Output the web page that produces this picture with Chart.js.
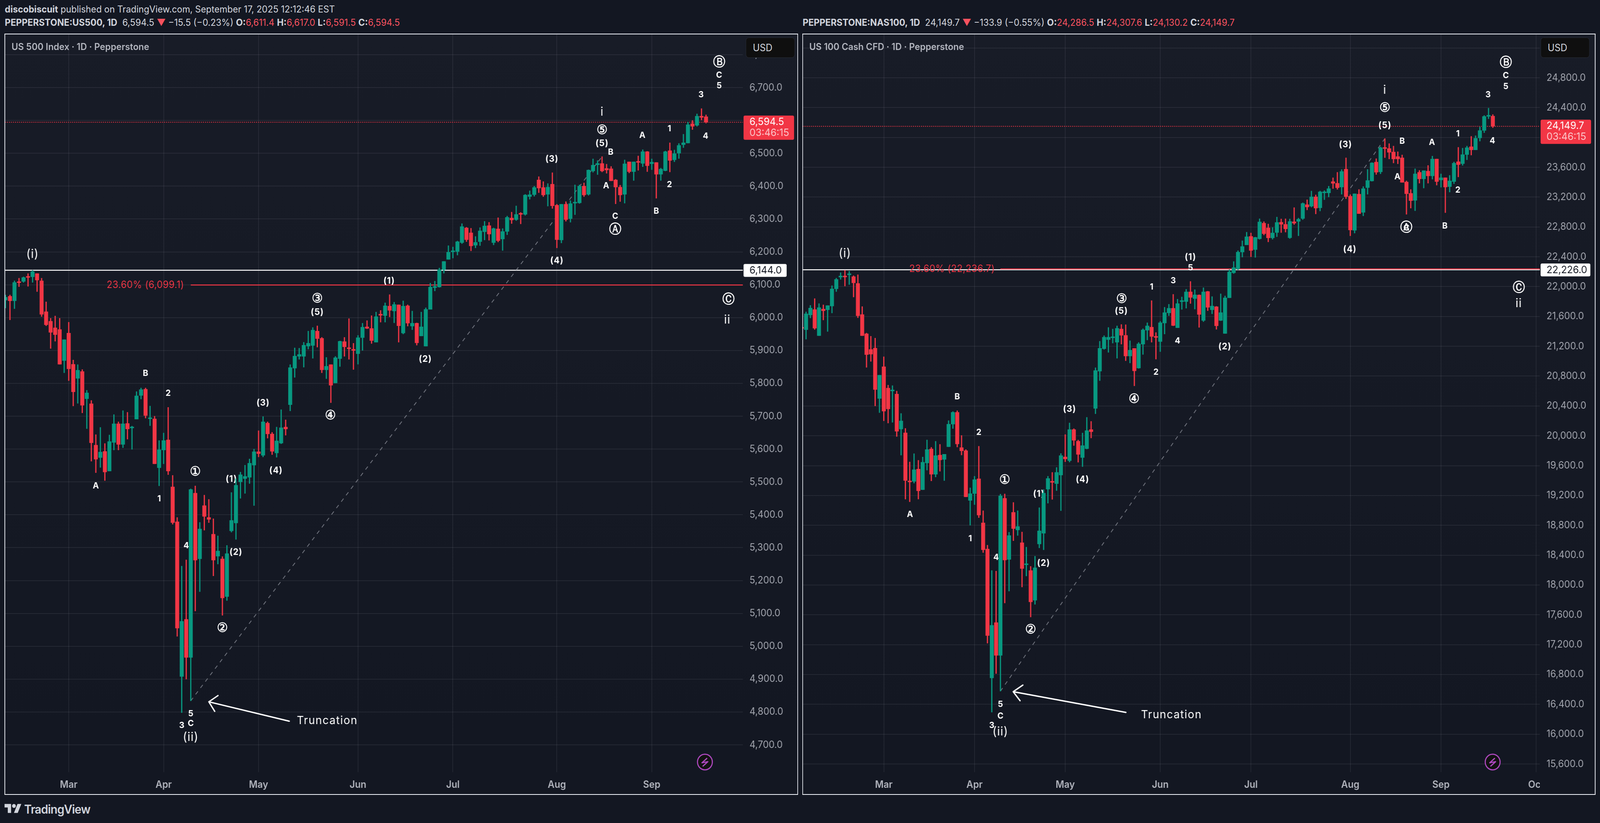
<!DOCTYPE html>
<html><head><meta charset="utf-8">
<script src="https://cdn.jsdelivr.net/npm/chart.js@4/dist/chart.umd.min.js"></script>
<style>
html,body{margin:0;padding:0;background:#131722;overflow:hidden;font-family:Inter,sans-serif}
#page{position:absolute;left:0;top:0;width:4308px;height:2106px;transform-origin:0 0;background:#131722}
canvas{position:absolute;display:block}
.t{position:absolute;white-space:pre;color:#d1d4dc;font-size:24px;line-height:28px}
.b{font-weight:700}.r{color:#f7525f}
.frame{position:absolute;border:2px solid #f0f3fa;box-sizing:border-box;pointer-events:none}
.title{position:absolute;white-space:pre;color:#b2b5be;font-size:24px;font-weight:600;line-height:28px}
.usd{position:absolute;box-sizing:border-box;background:#0f0f0f;border:1.5px solid #2a2e39;border-radius:8px;color:#d1d4dc;font-size:25px;line-height:50px;padding-left:18px}
svg{position:absolute}
</style></head><body>
<div id="page">
<canvas id="left" width="2135" height="1946" style="left:13px;top:87px;width:2135px;height:1946px"></canvas>
<canvas id="right" width="2134" height="1946" style="left:2161px;top:87px;width:2134px;height:1946px"></canvas>
<div class="frame" style="left:12px;top:86px;width:2137px;height:1948px"></div>
<div class="frame" style="left:2160px;top:86px;width:2136px;height:1948px"></div>
<div class="t" style="left:13px;top:10px"><span class="b">discobiscuit</span> published on TradingView.com, September 17, 2025 12:12:46 EST</div>
<div class="t" style="left:13px;top:44px"><span class="b">PEPPERSTONE:US500, 1D</span>  6,594.5 <span class="r">▼</span> −15.5 (−0.23%) <span class="b">O:</span><span class="r">6,611.4</span> <span class="b">H:</span><span class="r">6,617.0</span> <span class="b">L:</span><span class="r">6,591.5</span> <span class="b">C:</span><span class="r">6,594.5</span></div>
<div class="t" style="left:2161px;top:44px"><span class="b">PEPPERSTONE:NAS100, 1D</span>  24,149.7 <span class="r">▼</span> −133.9 (−0.55%) <span class="b">O:</span><span class="r">24,286.5</span> <span class="b">H:</span><span class="r">24,307.6</span> <span class="b">L:</span><span class="r">24,130.2</span> <span class="b">C:</span><span class="r">24,149.7</span></div>
<div class="title" style="left:31px;top:106px">US 500 Index · 1D · Pepperstone</div>
<div class="title" style="left:2179px;top:106px">US 100 Cash CFD · 1D · Pepperstone</div>
<div class="usd" style="left:2008px;top:96px;width:132px;height:52px">USD</div>
<div class="usd" style="left:4148px;top:96px;width:132px;height:52px">USD</div>
<svg style="left:1875px;top:1927px" width="46" height="46" viewBox="-23 -23 46 46"><circle r="20" fill="#121212" stroke="#ab47bc" stroke-width="3"/><path d="M6 -10L-8 2L8 -1L-6 11" fill="none" stroke="#ab47bc" stroke-width="3" stroke-linejoin="round"/></svg>
<svg style="left:3996px;top:1927px" width="46" height="46" viewBox="-23 -23 46 46"><circle r="20" fill="#121212" stroke="#ab47bc" stroke-width="3"/><path d="M6 -10L-8 2L8 -1L-6 11" fill="none" stroke="#ab47bc" stroke-width="3" stroke-linejoin="round"/></svg>
<svg style="left:12px;top:2052px" width="46" height="36" viewBox="0 0 36 28"><path d="M14 22H7V11H0V4h14v18zM28 22h-8l7.5-18h8L28 22z" fill="#d1d4dc"/><circle cx="20" cy="8" r="4" fill="#d1d4dc"/></svg>
<div class="t" style="left:65px;top:2054px;font-size:31px;line-height:34px;font-weight:600;letter-spacing:-1px">TradingView</div>
</div>
<script>
// The window may be narrower than the 4308 px layout: fit the whole page across it.
const fit=Math.min(1,window.innerWidth/4308);
document.getElementById("page").style.transform="scale("+fit+",1)";

// ---------- time axis ----------
const monthNames=["Mar","Apr","May","Jun","Jul","Aug","Sep","Oct"];
const monthBars=[0,21,42,64,85,108,129,151];

// ---------- US500 daily candles (first bar = 14 sessions before 3 Mar) ----------
const spxFirstBar=-14;
const spxOpen=[6053,6065,6051,6107,6110,6123,6124,6134,6112,6018,
5989,5969,5964,5869,5953,5858,5815,5836,5753,5738,
5612,5574,5593,5533,5620,5677,5614,5678,5664,5691,
5763,5782,5692,5692,5543,5597,5628,5485,5379,4908,
5082,4966,5466,5266,5428,5392,5341,5274,5266,5151,
5351,5375,5500,5510,5514,5551,5592,5581,5679,5646,
5588,5618,5667,5735,5846,5882,5882,5913,5915,5959,
5937,5841,5857,5801,5875,5927,5908,5902,5890,5939,
5972,5967,5925,6008,6006,6035,6020,6039,5953,6036,
5974,5983,5944,5913,6025,6091,6093,6146,6177,6200,
6201,6228,6273,6258,6220,6231,6261,6280,6228,6270,
6239,6262,6303,6298,6316,6314,6368,6374,6419,6396,
6375,6406,6342,6236,6345,6301,6348,6349,6400,6375,
6446,6465,6469,6454,6453,6419,6397,6375,6474,6444,
6473,6469,6505,6468,6472,6436,6447,6508,6480,6500,
6526,6531,6590,6585,6613,6611.4];
const spxHigh=[6069,6069,6112,6120,6124,6134,6144,6134,6120,6048,
5998,6005,5998,5933,5986,5871,5857,5842,5779,5748,
5644,5666,5617,5643,5705,5683,5717,5712,5670,5775,
5786,5786,5731,5700,5626,5649,5727,5520,5392,5244,
5263,5479,5488,5377,5460,5447,5388,5336,5273,5307,
5468,5510,5530,5551,5570,5600,5656,5699,5683,5651,
5667,5720,5689,5857,5908,5907,5925,5959,5970,5975,
5940,5879,5857,5882,5929,5940,5997,5922,5946,5983,
5991,6006,6017,6022,6045,6070,6047,6039,6051,6039,
6020,5984,6017,6030,6105,6111,6151,6171,6219,6215,
6233,6286,6275,6272,6247,6274,6293,6290,6273,6304,
6271,6309,6321,6340,6320,6375,6386,6400,6429,6414,
6408,6441,6345,6345,6353,6356,6404,6404,6410,6450,
6483,6478,6490,6467,6460,6421,6403,6480,6474,6474,
6492,6511,6506,6483,6472,6455,6507,6532,6510,6530,
6558,6595,6600,6620,6636,6617];
const spxLow=[6029,5993,6027,6094,6107,6095,6107,6079,6003,5975,
5906,5928,5858,5832,5808,5731,5739,5710,5662,5563,
5528,5544,5504,5533,5597,5597,5604,5630,5599,5691,
5752,5694,5671,5555,5488,5555,5522,5371,5030,4798,
4900,4834,5107,5166,5353,5376,5214,5250,5094,5139,
5347,5325,5450,5465,5495,5428,5576,5576,5633,5583,
5575,5616,5642,5716,5818,5873,5849,5904,5876,5910,
5832,5814,5741,5801,5851,5882,5873,5842,5858,5900,
5966,5921,5925,5986,5986,6002,5984,5925,5950,5974,
5963,5916,5944,5913,6025,6081,6092,6135,6177,6181,
6190,6225,6231,6203,6212,6219,6236,6235,6221,6230,
6204,6252,6286,6295,6285,6311,6360,6369,6380,6368,
6339,6332,6212,6227,6293,6290,6313,6347,6368,6372,
6442,6435,6443,6439,6416,6346,6353,6348,6440,6417,
6448,6459,6444,6450,6363,6417,6446,6443,6474,6484,
6517,6531,6572,6582,6601,6591.5];
const spxClose=[6062,6051,6107,6106,6122,6122,6140,6114,6010,5978,
5955,5948,5858,5933,5844,5774,5840,5733,5771,5619,
5569,5591,5530,5623,5677,5614,5677,5661,5666,5762,
5781,5702,5693,5555,5598,5626,5533,5376,5055,5076,
4966,5477,5262,5357,5395,5386,5262,5290,5147,5282,
5383,5490,5522,5517,5557,5592,5586,5683,5646,5593,
5625,5665,5661,5848,5883,5888,5916,5922,5962,5936,
5841,5852,5794,5878,5928,5911,5905,5900,5939,5971,
5967,5930,6003,6007,6036,6022,6040,5975,6035,5983,
5983,5923,5972,6025,6093,6095,6146,6171,6199,6201,
6231,6277,6237,6218,6229,6264,6279,6254,6271,6234,
6262,6305,6297,6314,6314,6373,6374,6396,6394,6373,
6397,6340,6237,6345,6298,6347,6350,6400,6373,6449,
6464,6469,6446,6449,6416,6397,6373,6468,6444,6474,
6472,6505,6462,6473,6436,6452,6505,6478,6499,6524,
6532,6587,6582,6613,6609,6594.5];
const spxPriceTicks=[4700,4800,4900,5000,5100,5200,5300,5400,5500,5600,5700,5800,5900,6000,6100,6200,6300,6400,6500,6600,6700,6800];
const spxWaveText=["(i)","A","B","2","1","①","(1)","4","(2)","②","(4)","5","C","3","(ii)","(3)","③","(5)","④","(1)","(2)","(3)","i","⑤","(5)","B","A","C","Ⓐ","(4)","A","1","2","B","3","4","Ⓑ","C","5","Ⓒ","ii","Truncation"];
const spxWaveBar=[-8,6,17,22,20,28,36,26,37,34,45.85,27,27,25,27,43,55,55,57.9,70.9,78.9,106.9,118,118,118,119.9,118.9,120.9,120.9,108,126.9,132.9,132.9,130,139.9,140.9,143.9,143.9,143.9,146,145.7,57.2];
const spxWavePrice=[6193,5488,5830,5770,5449,5529,5509,5306,5286,5054,5535,4795,4765,4759,4723,5740,6056,6016,5701,6111,5873,6482,6625,6569,6530,6503,6401,6308,6267,6173,6554,6575,6405,6324,6678,6552,6776,6737,6705,6054,5993,4774];
const spxLevel=6144.0, spxFib=6099.1, spxLast=6594.5;
const spxFibText="23.60% (6,099.1)", spxFibTextBar=16.97;
const spxFibStartBar=27;
const spxTrendBars=[27,118], spxTrendPrices=[4834,6490];
const spxArrowBars=[48.8,31,null,33.03,31,32.3], spxArrowPrices=[4772,4831,null,4850,4831,4802];

// ---------- NAS100 daily candles (first bar = 19 sessions before 3 Mar) ----------
const ndxFirstBar=-19;
const ndxOpen=[21449,21422,21619,21693,21342,21699,21689,21739,21970,22127,
22132,22158,22134,22043,21626,21368,21158,21175,20500,20927,
20640,20600,20560,20090,20040,19390,19388,19554,19277,19635,
19824,19484,19742,19683,19853,20156,20315,19842,19801,19133,
19225,19424,18833,18482,16753,17496,17056,19162,18342,18974,
18737,18567,18270,18194,17795,18549,18693,19284,19390,19358,
19473,19717,19666,20084,19928,19708,19827,20084,20367,20866,
21167,21289,21313,21254,21432,21347,21069,21172,20908,21228,
21415,21457,21322,21263,21511,21647,21710,21448,21798,21799,
21930,21839,21888,21546,21935,21689,21731,21546,21371,21850,
22185,22236,22463,22559,22674,22496,22641,22851,22788,22653,
22725,22863,22835,22655,22870,22874,22913,23099,23078,23204,
23056,23256,23256,23408,23386,23334,23575,23212,22754,23240,
22995,23327,23416,23670,23538,23857,23852,23805,23744,23727,
23403,23251,23156,23533,23444,23549,23484,23711,23429,23460,
23340,23408,23675,23648,23770,23876,23833,23993,24093,24282,
24286.5];
const ndxHigh=[21470,21662,21749,21840,21773,21756,21746,22013,22114,22187,
22220,22207,22147,22160,21733,21378,21335,21310,20813,21060,
20680,20673,20600,20300,20100,19650,19761,19672,19716,19945,
19846,19927,19886,19753,20204,20326,20337,20005,19816,19303,
19458,19860,18996,18534,18194,18187,19218,19221,18708,19107,
18996,18711,18508,18250,18386,19037,19280,19458,19510,19576,
19764,20017,20173,20096,19944,20038,20248,20194,20913,21268,
21343,21453,21432,21474,21493,21490,21275,21172,21252,21436,
21516,21813,21385,21535,21724,21764,21897,21832,21862,21965,
22070,21960,21892,21986,21939,21867,21736,21904,21876,22229,
22337,22482,22615,22730,22720,22664,22910,22872,22840,22793,
22933,22908,22910,22908,23060,22919,23125,23165,23282,23230,
23282,23288,23347,23460,23533,23570,23727,23234,23245,23303,
23342,23572,23664,23716,23874,23985,23918,23885,23809,23766,
23418,23303,23581,23559,23555,23625,23750,23711,23512,23460,
23492,23672,23868,23857,23885,24015,24024,24141,24295,24393,
24307.6];
const ndxLow=[21420,21295,21579,21425,21342,21552,21398,21646,21933,22097,
22007,22027,21860,21582,21342,20917,20997,20400,20310,20200,
20170,20180,19990,19740,19150,19115,19365,19151,19277,19539,
19395,19447,19524,19399,19853,20097,19849,19742,19181,18800,
19077,18903,18434,17219,16295,16812,16576,17758,17917,18593,
18663,17972,18120,17570,17740,18497,18471,19096,19147,19265,
18996,19652,19647,19869,19645,19586,19822,19970,20295,20739,
21158,21118,21242,21039,21228,21006,20976,20669,20903,21090,
21284,21254,21027,21128,21364,21610,21474,21448,21694,21710,
21773,21698,21453,21530,21677,21635,21427,21542,21371,21850,
22175,22225,22395,22559,22400,22391,22634,22692,22599,22634,
22669,22724,22730,22644,22832,22681,22898,23028,23065,22974,
23013,23165,23201,23314,23303,23238,23178,22681,22717,22978,
22948,23238,23412,23503,23512,23729,23711,23657,23646,23397,
22969,23052,23017,23386,23321,23386,23440,23360,23332,22991,
23267,23379,23470,23625,23700,23763,23833,23950,24063,24250,
24130.2];
const ndxClose=[21440,21636,21713,21442,21719,21676,21746,21970,22097,22132,
22128,22162,22050,21609,21342,21088,21094,20620,20813,20330,
20360,20613,20060,20200,19400,19380,19546,19262,19646,19816,
19484,19735,19676,19753,20156,20315,19890,19798,19181,19225,
19413,18937,18471,17322,17459,17056,19195,18334,18663,18756,
18785,18220,18280,17773,18231,18726,19232,19428,19375,19510,
19735,19689,20084,19939,19750,19869,20070,20054,20875,21174,
21322,21322,21316,21441,21347,21069,21149,20870,21233,21420,
21474,21331,21318,21516,21652,21710,21478,21773,21800,21930,
21855,21890,21626,21930,21722,21740,21474,21652,21850,22197,
22255,22463,22538,22669,22484,22660,22868,22709,22653,22720,
22861,22835,22774,22874,22850,22904,23115,23067,23204,23052,
23271,23267,23314,23384,23325,23544,23206,22759,23245,22978,
23314,23423,23659,23533,23863,23850,23800,23711,23711,23397,
23245,23152,23512,23444,23555,23484,23711,23408,23460,23334,
23418,23655,23635,23770,23863,23833,23989,24093,24282,24284,
24149.7];
const ndxPriceTicks=[15600,16000,16400,16800,17200,17600,18000,18400,18800,19200,19600,20000,20400,20800,21200,21600,22000,22400,22800,23200,23600,24000,24400,24800,25200];
const ndxWaveText=["(i)","A","B","2","1","①","(1)","4","(2)","②","(3)","(4)","④","5","C","3","(ii)","③","(5)","1","2","3","4","(1)","5","(2)","(3)","i","⑤","(5)","B","A","A","1","2","B","3","4","(4)","Ⓐ","C","Ⓑ","C","5","Ⓒ","ii","Truncation"];
const ndxWaveBar=[-9,6.05,17,22,20,28,35.9,26,37,34,43,46,57.95,27,27,25,27,55.06,55,62,63,67,68,71,71,78.95,106.9,116,116,116,120,118.9,126.9,132.9,132.9,129.9,139.9,140.9,107.9,121,121,144,144,144,147,147,66.6];
const ndxWavePrice=[22442,18948,20525,20045,18623,19404,19218,18372,18293,17397,20357,19414,20488,16402,16240,16119,16032,21829,21672,21997,20855,22081,21274,22393,22254,21195,23906,24632,24388,24162,23949,23471,23931,24049,23293,22811,24575,23953,22500,22788,22788,24996,24829,24681,21979,21771,16257];
const ndxLevel=22226.0, ndxFib=22236.7, ndxLast=24149.7;
const ndxFibText="23.60% (22,236.7)", ndxFibTextBar=15.8;
const ndxFibStartBar=27;
const ndxTrendBars=[27,116], ndxTrendPrices=[16576,23985];
const ndxArrowBars=[56.05,29.96,null,32.2,29.96,31.55], ndxArrowPrices=[16292,16569,null,16658,16569,16448];

// ---------- drawing ----------
const UP="#089981", DOWN="#F23645";
const fmt=v=>v.toLocaleString("en-US",{minimumFractionDigits:1,maximumFractionDigits:1});
const CIRCLED=/[①②③④⑤ⒶⒷⒸ]/;
function waveFont(t){
  if(t==="Truncation") return ["400 29px Inter","0.06em"];
  if(/^(\(i+\)|i+)$/.test(t)) return ["400 31px Inter","0.04em"];
  if(CIRCLED.test(t)) return ["400 33px 'DejaVu Sans'","0px"];
  if(t[0]==="(") return ["700 23px Inter","0.05em"];
  return ["700 22px Inter","0px"];
}
function noMargins(s){s.paddingTop=0;s.paddingBottom=0;s.paddingLeft=0;s.paddingRight=0;}
function panel(id,c){
  const bars=c.open.map((_,k)=>c.first+k);
  const colors=c.open.map((o,k)=>c.close[k]>=o?UP:DOWN);
  const W=c.axisW, X0=c.xMin, X1=c.xMax;
  const seg=(xs,ys)=>xs.map((x,k)=>({x:x===null?NaN:x,y:ys[k]===null?NaN:ys[k]}));
  const ln=(label,data,color,w,extra)=>Object.assign({type:"line",label,data,borderColor:color,borderWidth:w,pointRadius:0,fill:false,tension:0,order:2},extra||{});
  let grad=null;
  const gradient=ch=>{ if(!grad){grad=ch.ctx.createLinearGradient(0,0,0,ch.height);grad.addColorStop(0,"#181c27");grad.addColorStop(1,"#131722");} return grad; };
  const paint={id:"paint",
    beforeDraw(ch){ch.ctx.save();ch.ctx.fillStyle=gradient(ch);ch.ctx.fillRect(0,0,ch.width,ch.height);ch.ctx.restore();},
    beforeDatasetsDraw(ch){const a=ch.chartArea;ch.ctx.save();ch.ctx.fillStyle=gradient(ch);ch.ctx.fillRect(a.right,a.bottom+1,ch.width-a.right,ch.height-a.bottom);ch.ctx.restore();},
    beforeDatasetDraw(ch,args){
      if(ch.data.datasets[args.index].label!=="wick") return;
      const x=ch.scales.x,y=ch.scales.y,g=ch.ctx;
      g.save();g.textAlign="center";g.textBaseline="middle";g.fillStyle="#ffffff";g.strokeStyle="#ffffff";g.lineWidth=0.9;
      c.waveText.forEach((t,k)=>{const f=waveFont(t);g.font=f[0];g.letterSpacing=f[1];
        const px=x.getPixelForValue(c.waveBar[k]),py=y.getPixelForValue(c.wavePrice[k]);
        g.fillText(t,px,py);
        if(CIRCLED.test(t)) g.strokeText(t,px,py);});
      g.font="400 25px Inter";g.letterSpacing="0.02em";g.fillStyle=DOWN;
      g.fillText(c.fibText,x.getPixelForValue(c.fibTextBar),y.getPixelForValue(c.fib));
      g.restore();
    },
    afterDraw(ch){
      const y=ch.scales.y,g=ch.ctx,a=ch.chartArea;
      g.save();g.textBaseline="middle";g.textAlign="left";
      const tagX=a.right+2, lastY=y.getPixelForValue(c.last);
      g.fillStyle=DOWN;g.beginPath();g.roundRect(tagX,lastY-17,c.tagW,62,4);g.fill();
      g.fillStyle="#ffffff";g.font="400 26px Inter";g.fillText(fmt(c.last),tagX+16,lastY-1);
      g.fillStyle="rgba(255,255,255,0.72)";g.fillText("03:46:15",tagX+16,lastY+27);
      const lvY=y.getPixelForValue(c.level);
      g.fillStyle="#ffffff";g.beginPath();g.roundRect(tagX,lvY-16,c.levelTagW,33,4);g.fill();
      g.fillStyle="#131722";g.fillText(fmt(c.level),tagX+16,lvY+1);
      g.restore();
    }};
  const datasets=[
    {type:"bar",label:"body",data:bars.map((b,k)=>({x:b,y:[c.open[k],c.close[k]]})),backgroundColor:colors,barThickness:10,minBarLength:3,grouped:false,order:0},
    {type:"bar",label:"wick",data:bars.map((b,k)=>({x:b,y:[c.low[k],c.high[k]]})),backgroundColor:colors,barThickness:2.6,grouped:false,order:1},
    ln("arrow",seg(c.arrowBars,c.arrowPrices),"#ffffff",3.5,{borderCapStyle:"round",borderJoinStyle:"round",spanGaps:false}),
    ln("trend",seg(c.trendBars,c.trendPrices),"rgba(178,181,190,0.62)",2,{borderDash:[10,11]}),
    ln("fib",seg([c.fibStart,X1],[c.fib,c.fib]),DOWN,c.fibW),
    ln("level",seg([X0,X1],[c.level,c.level]),"#ffffff",c.levelW),
    ln("last",seg([X0,X1],[c.last,c.last]),DOWN,2,{borderDash:[2.5,3]})
  ];
  new Chart(document.getElementById(id),{
    data:{datasets},
    plugins:[paint],
    options:{responsive:false,animation:false,devicePixelRatio:1,events:[],
      layout:{padding:0},
      plugins:{legend:{display:false},tooltip:{enabled:false},title:{display:false}},
      scales:{
        x:{type:"linear",position:"bottom",min:X0,max:X1,offset:false,
          afterFit:s=>{s.height=57;noMargins(s);},
          afterBuildTicks:s=>{s.ticks=c.months.map(v=>({value:v}));},
          grid:{color:"rgba(240,243,250,0.075)",lineWidth:2,drawTicks:false,offset:false},
          border:{display:false},
          ticks:{autoSkip:false,maxRotation:0,minRotation:0,padding:17,color:"#b2b5be",font:{family:"Inter",size:25,weight:"600"},
            callback:v=>monthNames[monthBars.indexOf(v)]}},
        y:{type:"linear",position:"right",min:c.yMin,max:c.yMax,
          afterFit:s=>{s.width=W;noMargins(s);},
          afterBuildTicks:s=>{s.ticks=c.ticks.map(v=>({value:v}));},
          grid:{color:"rgba(240,243,250,0.075)",lineWidth:2,drawTicks:false},
          border:{display:false},
          ticks:{z:1,autoSkip:false,padding:18,color:"#a3a6af",font:{family:"Inter",size:25},callback:v=>fmt(v)}}
      }}
  });
}
panel("left",{first:spxFirstBar,open:spxOpen,high:spxHigh,low:spxLow,close:spxClose,
  ticks:spxPriceTicks,months:monthBars.slice(0,7),waveText:spxWaveText,waveBar:spxWaveBar,wavePrice:spxWavePrice,
  level:spxLevel,fib:spxFib,last:spxLast,fibText:spxFibText,fibTextBar:spxFibTextBar,fibStart:spxFibStartBar,
  trendBars:spxTrendBars,trendPrices:spxTrendPrices,arrowBars:spxArrowBars,arrowPrices:spxArrowPrices,
  axisW:148,xMin:-14.133,xMax:149.14,yMin:4616.8,yMax:6862.9,tagW:136,levelTagW:116,fibW:2.5,levelW:2.5});
panel("right",{first:ndxFirstBar,open:ndxOpen,high:ndxHigh,low:ndxLow,close:ndxClose,
  ticks:ndxPriceTicks,months:monthBars,waveText:ndxWaveText,waveBar:ndxWaveBar,wavePrice:ndxWavePrice,
  level:ndxLevel,fib:ndxFib,last:ndxLast,fibText:ndxFibText,fibTextBar:ndxFibTextBar,fibStart:ndxFibStartBar,
  trendBars:ndxTrendBars,trendPrices:ndxTrendPrices,arrowBars:ndxArrowBars,arrowPrices:ndxArrowPrices,
  axisW:149,xMin:-18.796,xMax:151.88,yMin:15490,yMax:25386.8,tagW:136,levelTagW:134,fibW:2.5,levelW:2.5});
</script>
</body></html>
